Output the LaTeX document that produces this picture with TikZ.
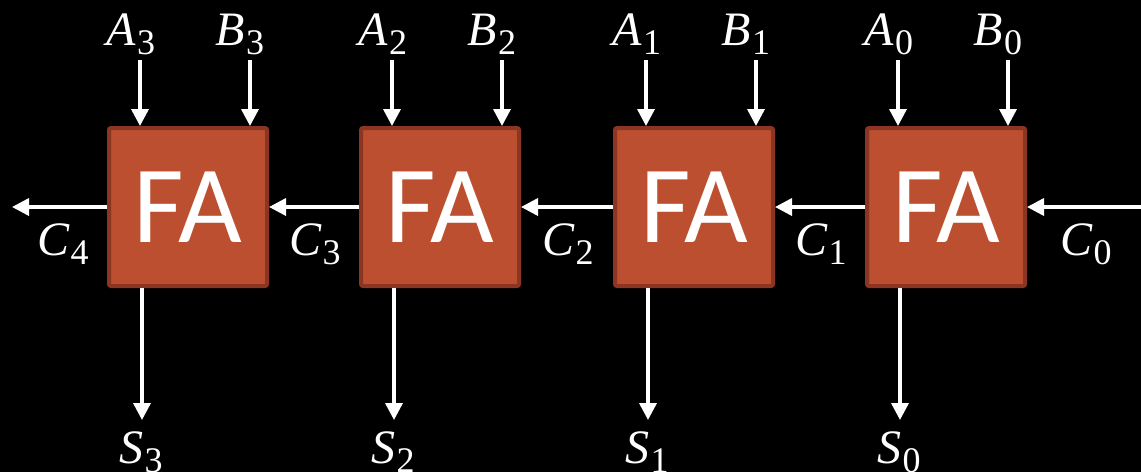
\documentclass[tikz,border=0pt]{standalone}
\usepackage{fontspec}
\newfontfamily\boxfont{Carlito}
\newfontfamily\sigfont{Liberation Serif}
\usetikzlibrary{arrows.meta}
\definecolor{fafill}{HTML}{BB4F2F}
\definecolor{faedge}{HTML}{8C3522}
% signal name: italic letter with an upright, lowered index
\newcommand{\signame}[2]{{\itshape #1}\kern1pt\raisebox{-0.2em}{\fontsize{36}{38}\selectfont\upshape #2}}
\tikzset{
  fabox/.style={draw=faedge, fill=fafill, line width=4pt, rounded corners=2pt,
    minimum width=158pt, minimum height=158pt, inner sep=0pt,
    text=white, font=\boxfont\fontsize{110}{116}\selectfont},
  sig/.style={draw=white, line width=3.5pt,
    -{Triangle[length=17pt,width=17pt]}, shorten >=0pt},
  lbl/.style={text=white, anchor=base, inner sep=0pt,
    font=\sigfont\fontsize{48}{50}\selectfont}
}
\begin{document}
\begin{tikzpicture}[x=1pt,y=-1pt]
  \fill[black] (0,0) rectangle (1141,472);
  \useasboundingbox (0,0) rectangle (1141,472);

  % full adders, most significant on the left
  \node[fabox] (fa3) at (188,207) {FA};
  \node[fabox] (fa2) at (440,207) {FA};
  \node[fabox] (fa1) at (694,207) {FA};
  \node[fabox] (fa0) at (946,207) {FA};

  % operand inputs and sum outputs
  \foreach \i/\x in {3/188,2/440,1/694,0/946}{
    \node[lbl] (a\i) at (\x-57,45) {\signame{A}{\i}};
    \node[lbl] (b\i) at (\x+52,45) {\signame{B}{\i}};
    \coordinate (at\i) at (\x-48,60);
    \coordinate (bt\i) at (\x+62,60);
    \draw[sig] (at\i) -- (at\i |- fa\i.north);
    \draw[sig] (bt\i) -- (bt\i |- fa\i.north);
    \coordinate (sb\i) at (\x-46,420);
    \node[lbl] (s\i) at (\x-47,463) {\signame{S}{\i}};
    \draw[sig] (sb\i |- fa\i.south) -- (sb\i);
  }

  % carry chain
  \coordinate (cin) at (1141,207);
  \coordinate (cout) at (12,207);
  \draw[sig] (cin) -- (fa0.east);
  \draw[sig] (fa0.west) -- (fa1.east);
  \draw[sig] (fa1.west) -- (fa2.east);
  \draw[sig] (fa2.west) -- (fa3.east);
  \draw[sig] (fa3.west) -- (cout);

  \node[lbl] (c0) at (1086,255) {\signame{C}{0}};
  \node[lbl] (c1) at (821,255) {\signame{C}{1}};
  \node[lbl] (c2) at (568,255) {\signame{C}{2}};
  \node[lbl] (c3) at (315,255) {\signame{C}{3}};
  \node[lbl] (c4) at (63,255) {\signame{C}{4}};
\end{tikzpicture}
\end{document}
